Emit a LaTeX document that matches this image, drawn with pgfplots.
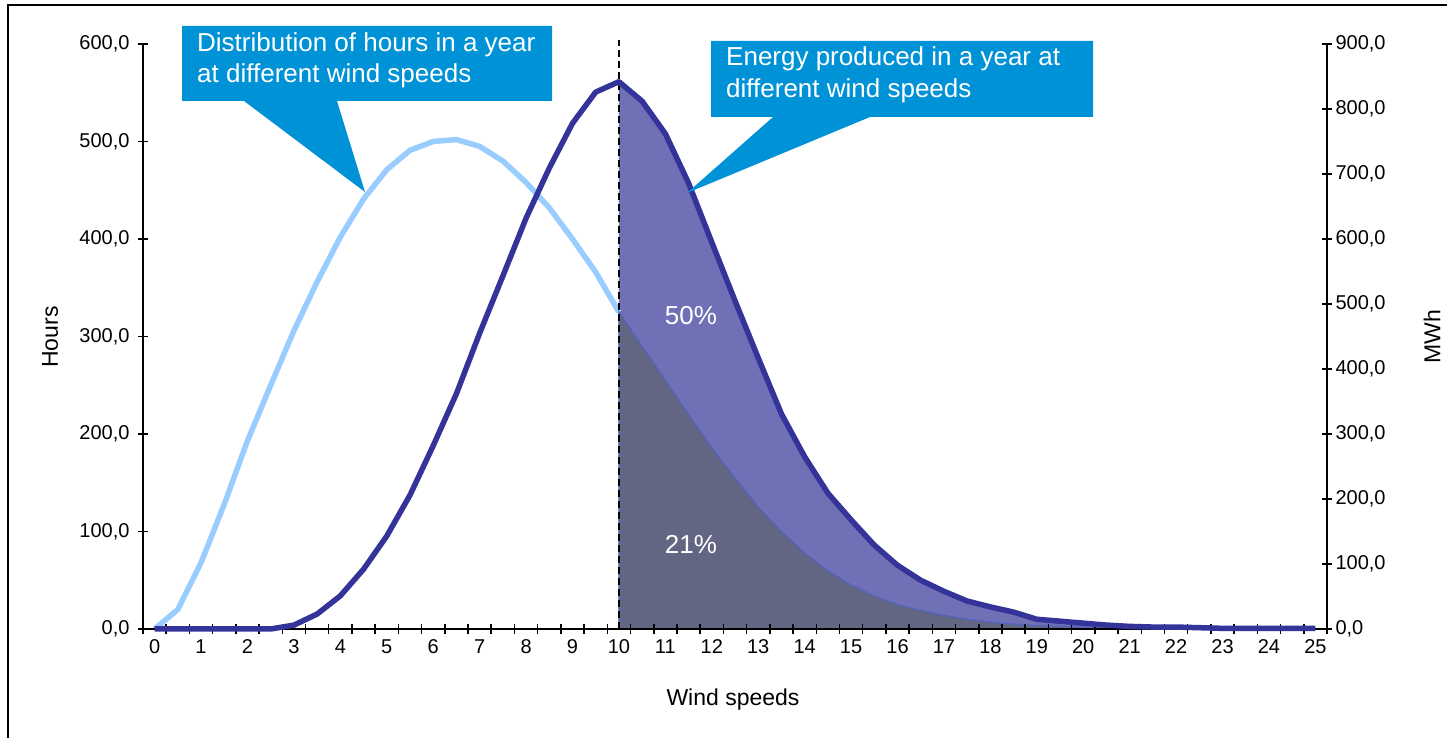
\documentclass[border=0pt]{standalone}
\usepackage{fontspec}
\setmainfont{Liberation Sans}
\usepackage{pgfplots}
\pgfplotsset{compat=1.18}
\usepackage{pgfplotstable}

\definecolor{hourline}{RGB}{153,204,255}
\definecolor{energyline}{RGB}{51,51,153}
\definecolor{energyfill}{RGB}{112,112,182}
\definecolor{hourfill}{RGB}{99,102,130}
\definecolor{houredge}{RGB}{80,100,190}
\definecolor{callout}{RGB}{0,146,214}

% wind speed, hours per year, energy per year (MWh)
\pgfplotstableread{
x    hours energy
0    0     0
0.5  20    0
1    68    0
1.5  128   0
2    193   0
2.5  250   0
3    306   6
3.5  356   23
4    402   51
4.5  441   92
5    471   143
5.5  491   206
6    500   282
6.5  502   362
7    495   455
7.5  480   543
8    458   632
8.5  432   709
9    400   778
9.5  366   826
10   325   842
10.5 290   812
11   255   762
11.5 220   686
12   186   595
12.5 155   505
13   125   417
13.5 100   331
14   78    265
14.5 60    209
15   45    168
15.5 34    129
16   25    98
16.5 19    75
17   14    58
17.5 10    43
18   7     34
18.5 5     26
19   3.5   15
19.5 2.5   12
20   1.8   9
20.5 1.2   6
21   0.8   4
21.5 0.5   3
22   0.3   3
22.5 0.2   2
23   0.1   1
23.5 0.1   1
24   0     1
24.5 0     1
25   0     1
}\wind

\pgfplotsset{
  chartframe/.style={
    at={(143pt,109pt)}, anchor=south west,
    scale only axis, width=1184pt, height=585pt,
    xmin=-0.25, xmax=25.25, ymin=0, clip=false,
    tick align=center, major tick length=10pt, minor tick length=10pt,
    axis line style={line width=1.5pt, black},
    tick style={line width=1.5pt, black},
    tick label style={font=\fontsize{20}{24}\selectfont},
    /pgf/number format/assume math mode=true,
    yticklabel style={/pgf/number format/fixed,
      /pgf/number format/fixed zerofill,
      /pgf/number format/precision=1,
      /pgf/number format/use comma},
  },
}

\begin{document}
\begin{tikzpicture}[x=1pt,y=1pt]
\useasboundingbox (0,0) rectangle (1447,738);
\draw[line width=2pt] (8,0) -- (8,733) -- (1447,733);

% energy scale: right axis and shaded share above 10 m/s
\begin{axis}[chartframe, ymax=900,
  axis x line=none, axis y line*=right,
  ytick={0,100,...,900}]
\addplot[draw=none, fill=energyfill, restrict x to domain=10:25]
  table[x=x, y=energy]{\wind} \closedcycle;
\end{axis}

% hours scale: left axis, wind speed axis
\begin{axis}[chartframe, ymax=600,
  axis x line*=bottom, axis y line*=left, axis on top,
  xtick={0,...,25}, major x tick style={draw=none},
  minor xtick={-0.25,0.25,...,25.25},
  xticklabel style={yshift=-2pt},
  ytick={0,100,...,600},
  yticklabel style={xshift=-5pt}]
\addplot[hourline, line width=5.5pt, line join=round, restrict x to domain=0:10]
  table[x=x, y=hours]{\wind};
\addplot[fill=hourfill, draw=houredge, line width=1.2pt, restrict x to domain=10:25]
  table[x=x, y=hours]{\wind} \closedcycle;
\addplot[black, line width=1.5pt, dash pattern=on 7pt off 4pt]
  coordinates {(10,0) (10,604)};
\end{axis}

% energy line on top
\begin{axis}[chartframe, ymax=900, hide axis]
\addplot[energyline, line width=5.5pt, line join=round]
  table[x=x, y=energy]{\wind};
\end{axis}

\node[rotate=90, font=\fontsize{23}{27}\selectfont] at (50,401) {Hours};
\node[rotate=90, font=\fontsize{23}{27}\selectfont] at (1432,401) {MWh};
\node[font=\fontsize{23}{27}\selectfont] at (733,38) {Wind speeds};

\node[white, font=\fontsize{26}{30}\selectfont] at (691,422) {50\%};
\node[white, font=\fontsize{26}{30}\selectfont] at (691,193) {21\%};

% callouts
\fill[callout] (182,712) -- (552,712) -- (552,637) -- (337,637) -- (365,546)
  -- (244,637) -- (182,637) -- cycle;
\node[white, anchor=base west, inner sep=0pt, font=\fontsize{26}{30}\selectfont]
  at (197,686) {Distribution of hours in a year};
\node[white, anchor=base west, inner sep=0pt, font=\fontsize{26}{30}\selectfont]
  at (197,655) {at different wind speeds};

\fill[callout] (711,697) -- (1093,697) -- (1093,621) -- (870,621) -- (687,545)
  -- (773,621) -- (711,621) -- cycle;
\node[white, anchor=base west, inner sep=0pt, font=\fontsize{26}{30}\selectfont]
  at (726,672) {Energy produced in a year at};
\node[white, anchor=base west, inner sep=0pt, font=\fontsize{26}{30}\selectfont]
  at (726,640) {different wind speeds};
\end{tikzpicture}
\end{document}
